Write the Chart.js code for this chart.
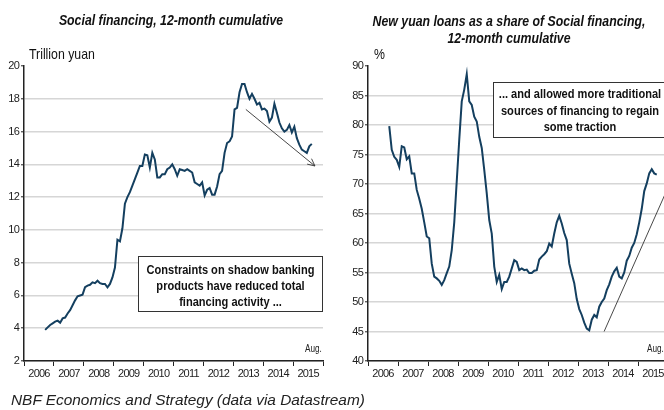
<!DOCTYPE html>
<html>
<head>
<meta charset="utf-8">
<script src="https://cdn.jsdelivr.net/npm/chart.js@4.4.1/dist/chart.umd.min.js"></script>
<style>
  html, body { margin: 0; padding: 0; background: #fff; overflow: hidden; }
  #wrap { position: relative; width: 664px; height: 410px; overflow: hidden; }
  canvas { position: absolute; top: 0; }
  #c1 { left: 0; }
  #c2 { left: 332px; }
  .txt { position: absolute; white-space: nowrap; color: #111;
         font-family: 'Liberation Sans', Arial, sans-serif; }
  /* condensed lettering for the chart labels */
  .sq-c { transform: scaleX(0.82); transform-origin: center center; }
  .sq-l { transform: scaleX(0.82); transform-origin: left center; }
  .title { font-size: 15px; font-weight: bold; font-style: italic; text-align: center; line-height: 17px; }
  .unit { font-size: 15px; line-height: 18px; }
  .aug { font-size: 10px; line-height: 12px; color: #222; }
  .note { position: absolute; box-sizing: border-box; background: #fff; border: 1px solid #333; }
  .note .body { position: absolute; left: -60px; right: -60px; text-align: center;
                font-family: 'Liberation Sans', Arial, sans-serif; font-weight: bold; font-size: 13.5px;
                color: #111; white-space: nowrap; }
  #source { position: absolute; left: 11px; top: 391px; font-family: 'Liberation Sans', Arial, sans-serif;
            font-style: italic; font-size: 15.4px; line-height: 18px; color: #222; white-space: nowrap; }
</style>
</head>
<body>
<div id="wrap">
  <canvas id="c1" width="332" height="410"></canvas>
  <canvas id="c2" width="340" height="410"></canvas>

  <div class="txt title sq-c" style="left:0; top:11px; width:342px;">Social financing, 12-month cumulative</div>
  <div class="txt title sq-c" style="left:309px; top:12px; width:400px;">New yuan loans as a share of Social financing,<br>12-month cumulative</div>

  <div class="txt unit sq-l" style="left:29px; top:45px;">Trillion yuan</div>
  <div class="txt unit sq-l" style="left:374px; top:45px;">%</div>

  <div class="txt aug sq-l" style="left:305px; top:343px;">Aug.</div>
  <div class="txt aug sq-l" style="left:647px; top:343px;">Aug.</div>

  <div class="note" style="left:138px; top:256px; width:185px; height:56px;">
    <div class="body sq-c" style="top:5px; line-height:16px;">Constraints on shadow banking<br>products have reduced total<br>financing activity ...</div>
  </div>
  <div class="note" style="left:493px; top:82px; width:174px; height:56px;">
    <div class="body sq-c" style="top:3px; line-height:16.5px;">... and allowed more traditional<br>sources of financing to regain<br>some traction</div>
  </div>

  <div id="source">NBF Economics and Strategy (data via Datastream)</div>
</div>

<script>
// Monthly series, September 2006 through August 2015
const startYear = 2006;
const startMonth = 8; // September (0-based)

// Social financing, 12-month cumulative (trillion yuan)
const socialFinancing = [
  3.9, 4.05, 4.2, 4.3, 4.4, 4.46, 4.34, 4.6, 4.65, 4.9, 5.1, 5.4,
  5.7, 5.95, 6.0, 6.05, 6.5, 6.6, 6.65, 6.8, 6.75, 6.9, 6.75, 6.7,
  6.7, 6.5, 6.7, 7.1, 7.7, 9.4, 9.3, 10.1, 11.6, 12.0, 12.3, 12.7,
  13.1, 13.5, 13.9, 13.9, 14.6, 14.55, 13.8, 14.7, 14.3, 13.2, 13.2, 13.4,
  13.4, 13.7, 13.8, 14.0, 13.7, 13.3, 13.7, 13.65, 13.6, 13.7, 13.6, 13.5,
  12.9, 12.8, 12.7, 12.9, 12.1, 12.45, 12.55, 12.15, 12.15, 12.65, 13.4, 13.6,
  14.7, 15.3, 15.4, 15.7, 17.35, 17.45, 18.4, 18.9, 18.9, 18.4, 18.0, 18.3,
  18.0, 17.65, 17.75, 17.35, 17.4, 17.25, 16.6, 16.85, 17.7, 17.15, 16.55, 16.2,
  16.0, 16.1, 16.4, 15.95, 16.3, 15.6, 15.2, 14.9, 14.8, 14.7, 15.1, 15.25
];

// New yuan loans as a share of social financing, 12-month cumulative (%)
const loanShare = [
  79.8, 75.8, 74.6, 74.1, 72.9, 76.4, 76.2, 74.2, 74.7, 71.8, 71.8, 69.0,
  67.5, 65.8, 63.5, 61.1, 60.8, 56.5, 54.3, 54.0, 53.6, 52.9, 53.7, 54.9,
  56.0, 58.8, 63.5, 70.5, 77.5, 84.0, 86.0, 88.6, 84.0, 83.4, 81.4, 80.6,
  78.0, 76.1, 72.4, 68.4, 63.9, 61.6, 56.0, 53.4, 54.6, 52.2, 53.4, 53.4,
  54.3, 55.7, 57.1, 56.8, 55.4, 55.7, 55.4, 55.5, 54.9, 54.9, 55.3, 55.4,
  57.2, 57.7, 58.1, 58.6, 59.9, 59.4, 61.6, 63.5, 64.6, 63.3, 61.7, 60.5,
  56.5, 54.8, 53.2, 50.5, 48.8, 47.8, 46.5, 45.5, 45.2, 47.0, 47.8, 47.4,
  49.2, 50.0, 50.6, 52.0, 53.0, 54.3, 55.2, 55.8, 54.3, 54.0, 55.0, 57.0,
  57.8, 59.2, 60.0, 61.5, 63.5, 65.8, 68.8, 70.1, 71.8, 72.5, 71.8, 71.6
];

// Axis ranges and tick steps
const yearTicks = [2006, 2007, 2008, 2009, 2010, 2011, 2012, 2013, 2014, 2015];
const leftRange = { min: 2, max: 20, step: 2 };
const rightRange = { min: 40, max: 90, step: 5 };

// Trend arrows: [year position, value]
const leftTrend = { from: [2013.42, 17.35], to: [2015.73, 13.9], head: true };
const rightTrend = { from: [2013.87, 45.0], to: [2016.0, 69.4], head: false };

const LINE = '#143f5f';
const AXIS = '#222';
const GRID = '#d6d6d6';
const tickFont = { family: "'Liberation Sans', Arial, sans-serif", size: 11 };

function toPoints(values) {
  return values.map((v, i) => ({ x: startYear + (startMonth + i + 0.5) / 12, y: v }));
}

// Tighter letter spacing for the axis numbers
const tightLabels = {
  id: 'tightLabels',
  beforeDraw(chart) {
    if ('letterSpacing' in chart.ctx) chart.ctx.letterSpacing = '-0.8px';
  },
  afterDraw(chart) {
    if ('letterSpacing' in chart.ctx) chart.ctx.letterSpacing = '0px';
  }
};

const trendArrow = {
  id: 'trendArrow',
  afterDatasetsDraw(chart, args, opts) {
    if (!opts || !opts.from) return;
    const xs = chart.scales.x, ys = chart.scales.y;
    const x1 = xs.getPixelForValue(opts.from[0]), y1 = ys.getPixelForValue(opts.from[1]);
    const x2 = xs.getPixelForValue(opts.to[0]), y2 = ys.getPixelForValue(opts.to[1]);
    const ctx = chart.ctx;
    ctx.save();
    ctx.strokeStyle = '#333';
    ctx.lineWidth = 0.9;
    ctx.beginPath();
    ctx.moveTo(x1, y1);
    ctx.lineTo(x2, y2);
    ctx.stroke();
    if (opts.head) {
      const a = Math.atan2(y2 - y1, x2 - x1), len = 8, spread = 0.45;
      ctx.beginPath();
      ctx.moveTo(x2 - len * Math.cos(a - spread), y2 - len * Math.sin(a - spread));
      ctx.lineTo(x2, y2);
      ctx.lineTo(x2 - len * Math.cos(a + spread), y2 - len * Math.sin(a + spread));
      ctx.stroke();
    }
    ctx.restore();
  }
};

function makeChart(id, values, range, yWidth, padRight, trend) {
  return new Chart(document.getElementById(id), {
    type: 'line',
    data: {
      datasets: [{
        data: toPoints(values),
        borderColor: LINE,
        borderWidth: 2,
        pointRadius: 0,
        tension: 0,
        fill: false
      }]
    },
    options: {
      responsive: false,
      animation: false,
      events: [],
      layout: { padding: { top: 66, right: padRight, left: 0, bottom: 0 } },
      plugins: {
        legend: { display: false },
        title: { display: false },
        tooltip: { enabled: false },
        trendArrow: trend
      },
      scales: {
        x: {
          type: 'linear',
          min: yearTicks[0],
          max: yearTicks[yearTicks.length - 1] + 1,
          afterBuildTicks(scale) {
            scale.ticks = yearTicks.concat([yearTicks[yearTicks.length - 1] + 1]).map(v => ({ value: v }));
          },
          afterFit(scale) { scale.height = 49; },
          ticks: {
            autoSkip: false,
            maxRotation: 0,
            labelOffset: 15,
            padding: 1,
            color: AXIS,
            font: tickFont,
            callback: v => (yearTicks.includes(v) ? String(v) : '')
          },
          grid: { drawOnChartArea: false, tickLength: 5, tickColor: AXIS, tickWidth: 1 },
          border: { color: AXIS, width: 1.5 }
        },
        y: {
          min: range.min,
          max: range.max,
          afterFit(scale) { scale.width = yWidth; },
          ticks: { stepSize: range.step, padding: 2, color: AXIS, font: tickFont },
          grid: {
            color: c => (c.tick && c.tick.value === range.max ? 'rgba(0,0,0,0)' : GRID),
            lineWidth: 1.6,
            tickLength: 3,
            tickColor: AXIS,
            tickWidth: 1
          },
          border: { color: AXIS, width: 1.5 }
        }
      }
    },
    plugins: [tightLabels, trendArrow]
  });
}

makeChart('c1', socialFinancing, leftRange, 24, 9, leftTrend);
makeChart('c2', loanShare, rightRange, 36, 4, rightTrend);
</script>
</body>
</html>
